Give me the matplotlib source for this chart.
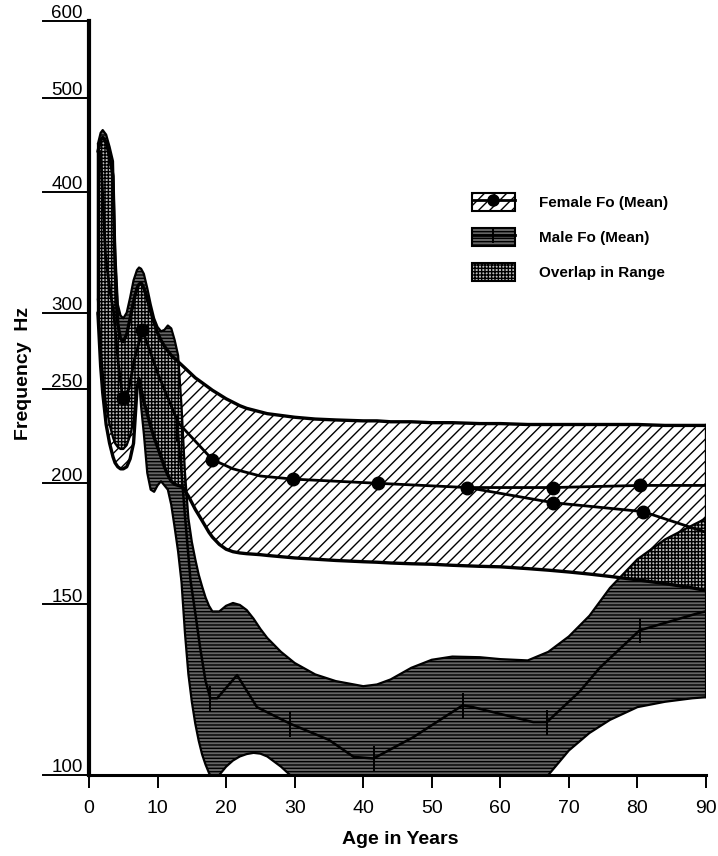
import numpy as np
import matplotlib
matplotlib.use("Agg")
import matplotlib.pyplot as plt
from matplotlib.patches import Patch
from matplotlib.lines import Line2D
import matplotlib.transforms as mtransforms
from matplotlib.ticker import NullLocator

plt.rcParams['font.family'] = ['Liberation Sans', 'DejaVu Sans']
plt.rcParams['hatch.linewidth'] = 1.0

# ---------------- data ----------------
AGES = [1.3, 1.7, 2.0, 2.5, 3.0, 3.5, 3.8, 4.2, 4.6, 5.0,
        5.5, 6.0, 6.5, 7.0, 7.3, 7.6, 8.0, 8.5, 9.0, 9.5,
        10.0, 10.5, 11.0, 11.5, 12.0, 12.5, 13.0, 13.5, 14.0, 14.5,
        15.0, 15.5, 16.0, 16.5, 17.0, 17.5, 18.0, 19.0, 20.0, 21.0,
        22.0, 23.0, 24.0, 25.0, 26.0, 28.0, 30.0, 33.0, 36.0, 40.0,
        42.0, 44.0, 47.0, 50.0, 53.0, 57.0, 60.0, 64.0, 67.0, 70.0,
        73.0, 76.0, 80.0, 84.0, 88.0, 90.0]

# Female Fo range (upper / lower)
F_HI = [440, 452, 455, 450, 435, 415, 335, 292, 282, 280,
        285, 296, 308, 318, 321, 322, 318, 310, 301, 293,
        286, 281, 277, 274, 271, 269, 267, 265, 263, 261,
        259, 257, 255.5, 254, 252.5, 251, 249.5, 247, 244.5, 242.5,
        240.5, 239, 238, 237, 236, 235, 234, 233, 232.5, 232,
        232, 231.5, 231.5, 231, 231, 230.5, 230.5, 230, 230, 230,
        230, 230, 230, 229.5, 229.5, 229.5]
F_LO = [300, 264, 248, 230, 220, 213, 210, 208, 207, 207,
        208, 212, 220, 250, 256, 250, 243, 236, 229, 223,
        218, 213, 208, 204, 201, 199.5, 199, 198.5, 196.5, 194,
        191, 188, 185.5, 183, 180.5, 178, 176, 173, 171, 170,
        169.5, 169.2, 169, 168.8, 168.5, 168, 167.5, 167, 166.5, 166,
        165.8, 165.5, 165.2, 165, 164.6, 164.2, 164, 163.3, 162.7, 162,
        161.2, 160.3, 159, 157.6, 156, 155]

# Male Fo range (upper / lower)
M_HI = [448, 460, 463, 458, 445, 430, 350, 306, 298, 296,
        300, 311, 324, 332, 334, 333, 329, 318, 306, 296,
        290, 287, 288, 291, 289, 281, 271, 240, 205, 184,
        174, 167, 161, 156.5, 152.5, 149.5, 147.5, 147.5, 149.5, 150.5,
        149.8, 148, 145, 141.5, 138.5, 134, 130.5, 127, 125, 123.5,
        124, 125.5, 129, 131.5, 132.5, 132.3, 131.7, 131.3, 134, 139,
        146, 156, 167, 175, 181, 184]
M_LO = [310, 275, 260, 240, 230, 223, 220, 218, 217, 217,
        219, 224, 232, 252, 257, 240, 225, 205, 197, 196,
        199, 201, 199, 197, 190, 180, 170, 158, 140, 127,
        119, 113, 108.5, 105, 102.5, 100.5, 99, 100, 102, 103.5,
        104.5, 105.1, 105.4, 105.2, 104.5, 102, 99, 96, 95, 95,
        95, 95, 95, 95, 95, 95, 95, 96, 100, 106,
        110.5, 114, 117.5, 119, 120, 120.3]

# Female mean Fo
F_MEAN_AGES = [1.7, 2.4, 3.0, 3.6, 4.3, 4.9, 5.8, 6.6, 7.8, 10.0,
               13.0, 18.0, 21.0, 25.0, 29.8, 42.2, 55.2, 67.7, 80.4, 90.0]
F_MEAN = [440, 345, 318, 300, 265, 245, 250, 268, 288, 260,
          231, 211.6, 207, 203.5, 202, 200, 198, 198, 199, 199]
F_MEAN_DOTS = [4.9, 7.8, 18.0, 29.8, 42.2, 55.2, 67.7, 80.4]

F_MEAN_B_AGES = [55.2, 67.7, 80.8, 90.0]
F_MEAN_B = [198, 191, 187, 178]
F_MEAN_B_DOTS = [67.7, 80.8]

# Male mean Fo
M_MEAN_AGES = [12.9, 13.5, 14.0, 14.8, 15.5, 16.2, 17.0, 17.7, 18.7, 21.6,
               24.5, 29.3, 35.0, 38.6, 41.5, 47.3, 54.5, 56.0, 64.8, 66.8,
               71.6, 74.5, 80.3, 89.0, 90.0]
M_MEAN = [228, 205, 185, 159, 147, 135.5, 125, 120, 120, 126.8,
          117.5, 113, 108.7, 104.4, 104, 109.4, 118, 117.5, 113.4, 113.4,
          122, 129, 141, 147, 147.5]
M_MEAN_TICKS = [12.9, 17.7, 29.3, 41.5, 54.5, 66.8, 80.3]

X_TICKS = [0, 10, 20, 30, 40, 50, 60, 70, 80, 90]
Y_TICKS = [100, 150, 200, 250, 300, 400, 500, 600]
LEGEND_LABELS = ["Female Fo (Mean)", "Male Fo (Mean)", "Overlap in Range"]

# ---------------- figure ----------------
W, H = 718, 856
fig = plt.figure(figsize=(W / 100, H / 100), dpi=100)
ax = fig.add_axes([89 / W, 1 - 775 / H, (706 - 89) / W, (775 - 21) / H])
ax.set_yscale('log')
ax.set_xlim(0, 90)
ax.set_ylim(100, 600)

ages = np.array(AGES, float)
fl, fh = np.array(F_LO, float), np.array(F_HI, float)
ml, mh = np.array(M_LO, float), np.array(M_HI, float)

MALE_FACE = '#666666'
ax.fill_between(ages, fl, fh, facecolor='white', edgecolor='black',
                hatch='///', linewidth=0, zorder=1)
ax.fill_between(ages, ml, mh, facecolor=MALE_FACE, edgecolor='black',
                hatch='-----', linewidth=0, zorder=2)
olo = np.maximum(fl, ml)
ohi = np.minimum(fh, mh)
ax.fill_between(ages, olo, ohi, where=olo < ohi, interpolate=True,
                facecolor='#bdbdbd', edgecolor='black', hatch='+++++',
                linewidth=0, zorder=3)

# outlines
for lo, hi, lw in ((fl, fh, 2.4), (ml, mh, 1.6)):
    ax.plot(ages, lo, color='black', lw=lw, zorder=4, solid_capstyle='round')
    ax.plot(ages, hi, color='black', lw=lw, zorder=4, solid_capstyle='round')
    ax.plot([ages[0], ages[0]], [lo[0], hi[0]], color='black', lw=lw, zorder=4)
    ax.plot([ages[-1], ages[-1]], [lo[-1], hi[-1]], color='black', lw=lw, zorder=4)

# mean lines
def idx(xs, sel):
    return [i for i, a in enumerate(xs) if a in sel]

ax.plot(F_MEAN_AGES, F_MEAN, color='black', lw=2.0, marker='o', ms=9,
        markevery=idx(F_MEAN_AGES, F_MEAN_DOTS), zorder=6)
ax.plot(F_MEAN_B_AGES, F_MEAN_B, color='black', lw=2.0, marker='o', ms=9,
        markevery=idx(F_MEAN_B_AGES, F_MEAN_B_DOTS), zorder=6)
ax.plot(M_MEAN_AGES, M_MEAN, color='black', lw=1.8, marker='|', ms=18, mew=1.4,
        markevery=idx(M_MEAN_AGES, M_MEAN_TICKS), zorder=6)

# axes styling
for s in ('top', 'right'):
    ax.spines[s].set_visible(False)
ax.spines['left'].set_linewidth(3.0)
ax.spines['bottom'].set_linewidth(2.2)
ax.set_xticks(X_TICKS)
ax.set_xticklabels([str(t) for t in X_TICKS])
ax.tick_params(axis='x', direction='out', length=9, width=1.4, labelsize=14, pad=9)
ax.yaxis.set_major_locator(NullLocator())
ax.yaxis.set_minor_locator(NullLocator())

# underlined y tick labels
trans = mtransforms.blended_transform_factory(ax.transAxes, ax.transData)
for v in Y_TICKS:
    ax.plot([-0.074, 0], [v, v], color='black', lw=1.4, transform=trans,
            clip_on=False, zorder=5)
    ax.text(-0.010, v * 1.006, str(v), transform=trans, ha='right', va='baseline',
            fontsize=13.5)

fig.text(24 / W, 1 - 373 / H, "Frequency  Hz", rotation=90, ha='center',
         va='center', fontsize=14, fontweight='bold')
fig.text(400 / W, 1 - 840 / H, "Age in Years", ha='center', va='center',
         fontsize=14, fontweight='bold')

# legend
h_f = (Patch(facecolor='white', edgecolor='black', hatch='///', lw=1.5),
       Line2D([], [], color='black', lw=2, marker='o', ms=8))
h_m = (Patch(facecolor=MALE_FACE, edgecolor='black', hatch='-----', lw=1.5),
       Line2D([], [], color='black', lw=2, marker='|', ms=12, mew=1.4))
h_o = Patch(facecolor='#bdbdbd', edgecolor='black', hatch='+++++', lw=1.5)
fig.legend([h_f, h_m, h_o], LEGEND_LABELS, loc='upper left',
           bbox_to_anchor=(472 / W, 1 - 193 / H), frameon=False,
           prop={'weight': 'bold', 'size': 11}, handlelength=2.8,
           handleheight=1.45, handletextpad=1.6, labelspacing=1.1,
           borderpad=0, borderaxespad=0)

fig.savefig("out.png", dpi=100, facecolor='white')
